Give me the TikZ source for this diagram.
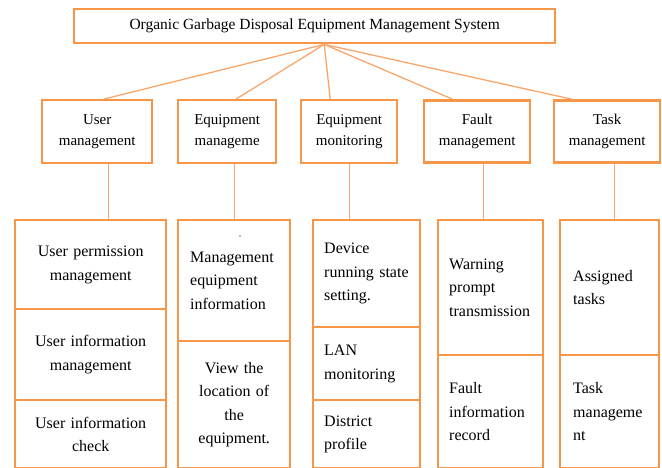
\documentclass[tikz,border=0pt]{standalone}
\usepackage{fontspec}
\setmainfont{Liberation Serif}
\definecolor{boxor}{HTML}{F79646}
\definecolor{lnor}{HTML}{F9A66C}
\definecolor{dotblue}{HTML}{7070F0}
\begin{document}
\begin{tikzpicture}[x=1pt,y=-1pt,
  box/.style={draw=boxor, line width=2.4pt, rectangle, inner sep=0pt, anchor=north west, align=center},
  topbox/.style={box, font=\fontsize{15.5}{19}\selectfont},
  midbox/.style={box, font=\fontsize{15}{21}\selectfont},
  cellC/.style={box, font=\fontsize{16}{23.5}\selectfont, align=center},
  cellL/.style={box, font=\fontsize{16}{23.5}\selectfont, align=left, inner xsep=11pt},
  conn/.style={draw=lnor, line width=1.3pt}]
\useasboundingbox (0,0) rectangle (662,468);
% top
\node[topbox, minimum width=481pt, minimum height=34pt] (top) at (73,8) {Organic Garbage Disposal Equipment Management System};
% middle row
\node[midbox, minimum width=110pt, minimum height=63pt] (um) at (41,99) {User\\management};
\node[midbox, minimum width=98pt, minimum height=63pt] (em) at (177,99) {Equipment\\manageme};
\node[midbox, minimum width=96pt, minimum height=63pt] (mo) at (300,99) {Equipment\\monitoring};
\node[midbox, minimum width=106pt, minimum height=62pt] (fm) at (423,99.5) {Fault\\management};
\node[midbox, minimum width=106pt, minimum height=62pt] (tm) at (553,99.5) {Task\\management};
% user column
\node[cellC, minimum width=151pt, minimum height=89pt, text width=151pt] (u1) at (14,219) {User permission\\management};
\node[cellC, minimum width=151pt, minimum height=91pt, text width=151pt] (u2) at (14,308) {User information\\management};
\node[cellC, minimum width=151pt, minimum height=68pt, text width=151pt] (u3) at (14,399) {User information\\check};
% equipment management column
\node[cellL, minimum width=112pt, minimum height=121pt, text width=88pt, inner xsep=12pt] (e1) at (177,219) {Management\\equipment\\information};
\node[cellC, minimum width=112pt, minimum height=127pt, text width=112pt] (e2) at (177,340) {View the\\location of\\the\\equipment.};
\fill[dotblue] (240,236) circle (0.9pt);
% monitoring column
\node[cellL, minimum width=107pt, minimum height=107pt, text width=85pt] (m1) at (312,219) {Device\\running state\\setting.};
\node[cellL, minimum width=107pt, minimum height=73pt, text width=85pt] (m2) at (312,326) {LAN\\monitoring};
\node[cellL, minimum width=107pt, minimum height=68pt, text width=85pt] (m3) at (312,399) {District\\profile};
% fault column
\node[cellL, minimum width=105pt, minimum height=135pt, text width=83pt] (f1) at (437,219) {Warning\\prompt\\transmission};
\node[cellL, minimum width=105pt, minimum height=113pt, text width=83pt] (f2) at (437,354) {Fault\\information\\record};
% task column
\node[cellL, minimum width=99pt, minimum height=135pt, text width=73pt, inner xsep=13pt] (t1) at (559,219) {Assigned\\tasks};
\node[cellL, minimum width=99pt, minimum height=113pt, text width=73pt, inner xsep=13pt] (t2) at (559,354) {Task\\manageme\\nt};
% connectors top -> middle
\coordinate (hub) at ([xshift=9.5pt]top.south);
\draw[conn] (hub) -- ([xshift=7pt]um.north);
\draw[conn] (hub) -- ([xshift=9pt]em.north);
\draw[conn] (hub) -- ([xshift=-19pt]mo.north);
\draw[conn] (hub) -- ([xshift=-24pt]fm.north);
\draw[conn] (hub) -- ([xshift=-34pt]tm.north);
% connectors middle -> columns
\draw[conn] ([xshift=11pt]um.south) -- ([xshift=11pt]um.south |- u1.north);
\draw[conn] ([xshift=7pt]em.south) -- ([xshift=7pt]em.south |- e1.north);
\draw[conn] (mo.south) -- (mo.south |- m1.north);
\draw[conn] ([xshift=6pt]fm.south) -- ([xshift=6pt]fm.south |- f1.north);
\draw[conn] ([xshift=7pt]tm.south) -- ([xshift=7pt]tm.south |- t1.north);
\end{tikzpicture}
\end{document}
